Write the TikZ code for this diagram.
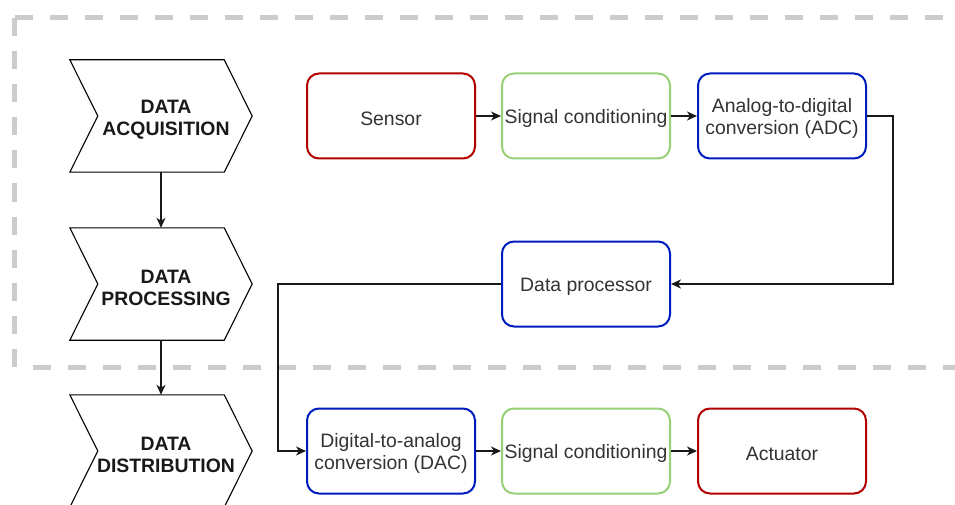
\documentclass[tikz,border=0pt]{standalone}
\usepackage{fontspec}
\setmainfont{Liberation Sans}
\usetikzlibrary{arrows.meta,calc}

\definecolor{edgered}{HTML}{B20000}
\definecolor{edgegreen}{HTML}{97D077}
\definecolor{edgeblue}{HTML}{001DBC}
\definecolor{boxtext}{HTML}{333333}
\definecolor{zonegray}{HTML}{CCCCCC}

\tikzset{
  blockbox/.style={draw, line width=2pt, rounded corners=12pt, fill=white,
    minimum width=168pt, minimum height=85pt, inner sep=0pt},
  boxlabel/.style={align=center, inner sep=0pt, yshift=-2.5pt, text=boxtext,
    font=\fontsize{19.4}{22}\selectfont},
  says/.style={label={[boxlabel]center:{#1}}},
  stagebox/.style={minimum width=182pt, minimum height=112pt, inner sep=0pt},
  stagetext/.style={align=center, inner sep=0pt, text=black!90,
    font=\fontsize{19.4}{22}\selectfont\bfseries},
  stageline/.style={draw=black, line width=1.1pt, line join=miter},
  flow/.style={draw=black!90, line width=1.1pt,
    -{Stealth[length=10pt, width=9pt, inset=3pt]}},
  zone/.style={draw=zonegray, line width=5pt, dash pattern=on 18pt off 17pt},
  zoneside/.style={draw=zonegray, line width=5pt, dash pattern=on 18pt off 15.1pt},
}

% chevron outline drawn on the anchors of a stage box
\newcommand\chevronpath[1]{%
  \draw[stageline] (#1.north west) -- ($(#1.north east)+(-28,0)$)
    -- (#1.east) -- ($(#1.south east)+(-28,0)$) -- (#1.south west)
    -- ($(#1.west)+(28,0)$) -- cycle;}

\begin{document}
\begin{tikzpicture}[x=1pt, y=-1pt]
\useasboundingbox (0,0) rectangle (955,505);
\fill[white] (0,0) rectangle (955,505);

% dashed zone around acquisition and processing
\draw[zone] (14.5,18) -- (975,18);
\draw[zoneside] (14.5,18) -- (14.5,369.5);
\draw[zone] (33,367) -- (975,367);

% stage chevrons
\node[stagebox] (acqbox)  at (161,116) {};
\node[stagebox] (procbox) at (161,284) {};
\node[stagebox] (distbox) at (161,451) {};
\chevronpath{acqbox}
\chevronpath{procbox}
\chevronpath{distbox}
\node[stagetext] (acq)  at (166,119.5) {DATA\\ACQUISITION};
\node[stagetext] (proc) at (166,287.5) {DATA\\PROCESSING};
\node[stagetext] (dist) at (166,454.5) {DATA\\DISTRIBUTION};

\draw[flow] (acqbox.south) -- (procbox.north);
\draw[flow] (procbox.south) -- (distbox.north);

% processing chain
\node[blockbox, draw=edgered,   says={Sensor}] (sensor) at (391,116) {};
\node[blockbox, draw=edgegreen, says={Signal conditioning}] (condin) at (586,116) {};
\node[blockbox, draw=edgeblue,  says={Analog-to-digital\\conversion (ADC)}] (adc) at (782,116) {};
\node[blockbox, draw=edgeblue,  says={Data processor}] (proc2) at (586,284) {};
\node[blockbox, draw=edgeblue,  says={Digital-to-analog\\conversion (DAC)}] (dac) at (391,451) {};
\node[blockbox, draw=edgegreen, says={Signal conditioning}] (condout) at (586,451) {};
\node[blockbox, draw=edgered,   says={Actuator}] (act) at (782,451) {};

\draw[flow] (sensor) -- (condin);
\draw[flow] (condin) -- (adc);
\draw[flow] (adc.east) -- ++(26,0) |- (proc2.east);
\draw[flow] (proc2.west) -- ++(-223,0) |- (dac.west);
\draw[flow] (dac) -- (condout);
\draw[flow] (condout) -- (act);
\end{tikzpicture}
\end{document}
